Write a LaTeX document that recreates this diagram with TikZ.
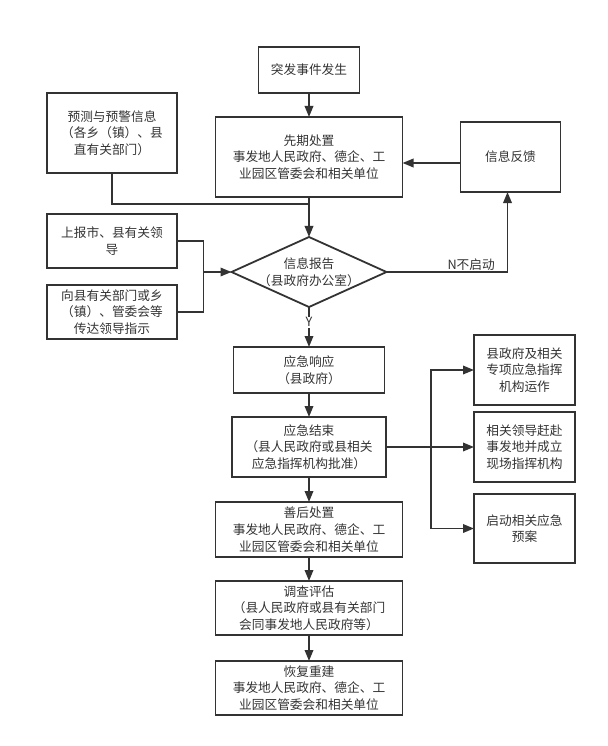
\documentclass[tikz,border=0pt]{standalone}
\usepackage{fontspec}
\setmainfont{Noto Sans CJK SC}
\usetikzlibrary{positioning,shapes.geometric,arrows.meta,calc}
\definecolor{ink}{RGB}{51,51,51}

\begin{document}
\begin{tikzpicture}[x=1pt,y=-1pt,
  box/.style={draw=ink, line width=1.8pt, text=ink, inner sep=0pt, outer sep=0pt, align=center, font=\fontsize{12.7}{16.7}\selectfont},
  jd/.style={diamond, aspect=2.2, draw=ink, line width=1.8pt, text=ink, inner sep=-6pt, outer sep=0pt, align=center, minimum width=155pt, minimum height=70pt, font=\fontsize{12.7}{16.7}\selectfont},
  line/.style={draw=ink, line width=1.8pt},
  arr/.style={line, -{Triangle[length=11pt,width=8.5pt]}},
  lab/.style={text=ink, inner sep=1pt, font=\fontsize{12.7}{16.7}\selectfont}]
\useasboundingbox (0,0) rectangle (607,746);
\node [box, minimum width=101pt, minimum height=46pt] (tf) at (309,70) {突发事件发生};
\node [box, below=24pt of tf, minimum width=187pt, minimum height=80pt] (xq) {先期处置\\事发地人民政府、德企、工\\业园区管委会和相关单位};
\node [jd, below=40pt of xq] (bg) {信息报告\\（县政府办公室）};
\node [box, below=40pt of bg, minimum width=151pt, minimum height=46pt] (yx) {应急响应\\（县政府）};
\node [box, below=24pt of yx, minimum width=154pt, minimum height=60pt] (js) {应急结束\\（县人民政府或县相关\\应急指挥机构批准）};
\node [box, below=25pt of js, minimum width=187pt, minimum height=55pt] (sh) {善后处置\\事发地人民政府、德企、工\\业园区管委会和相关单位};
\node [box, below=24pt of sh, minimum width=187pt, minimum height=54pt] (dc) {调查评估\\（县人民政府或县有关部门\\会同事发地人民政府等）};
\node [box, below=26pt of dc, minimum width=187pt, minimum height=54pt] (hf) {恢复重建\\事发地人民政府、德企、工\\业园区管委会和相关单位};
\node [box, minimum width=130pt, minimum height=80pt] (yc) at (112,133) {预测与预警信息\\（各乡（镇）、县\\直有关部门）};
\node [box, minimum width=130pt, minimum height=54pt] (sb) at (112,241) {上报市、县有关领\\导};
\node [box, below=17pt of sb, minimum width=130pt, minimum height=54pt] (xx) {向县有关部门或乡\\（镇）、管委会等\\传达领导指示};
\node [box, right=58pt of xq, minimum width=100pt, minimum height=70pt] (fk) {信息反馈};
\node [box, right=88pt of js, minimum width=101pt, minimum height=70pt] (r2) {相关领导赶赴\\事发地并成立\\现场指挥机构};
\node [box, above=7pt of r2, minimum width=101pt, minimum height=70pt] (r1) {县政府及相关\\专项应急指挥\\机构运作};
\node [box, below=12pt of r2, minimum width=101pt, minimum height=69pt] (r3) {启动相关应急\\预案};
\coordinate (jn) at ($(xq.south)+(0,-7pt)$);
\coordinate (mj) at ($(bg.west)+(-28pt,0)$);
\coordinate (br) at ($(js.east)+(45pt,0)$);
\draw [arr] (tf) -- (xq);
\draw [arr] (xq) -- (bg);
\draw [line] (yc.south) |- (jn);
\draw [line] (sb.east) -| (mj);
\draw [line] (xx.east) -| (mj);
\draw [arr] (mj) -- (bg.west);
\draw [arr] (bg.east) -| node [lab, above, pos=0.35] {N不启动} ([xshift=-3pt]fk.south);
\draw [arr] ([yshift=-6pt]fk.west) -- ([yshift=-6pt]xq.east);
\draw [arr] (bg.south) -- node [lab, fill=white, pos=0.38] {Y} (yx.north);
\draw [arr] (yx) -- (js);
\draw [arr] (js) -- (sh);
\draw [arr] (sh) -- (dc);
\draw [arr] (dc) -- (hf);
\draw [line] (js.east) -- (br);
\draw [arr] (br) |- (r1.west);
\draw [arr] (br) -- (r2.west);
\draw [arr] (br) |- (r3.west);
\end{tikzpicture}
\end{document}
